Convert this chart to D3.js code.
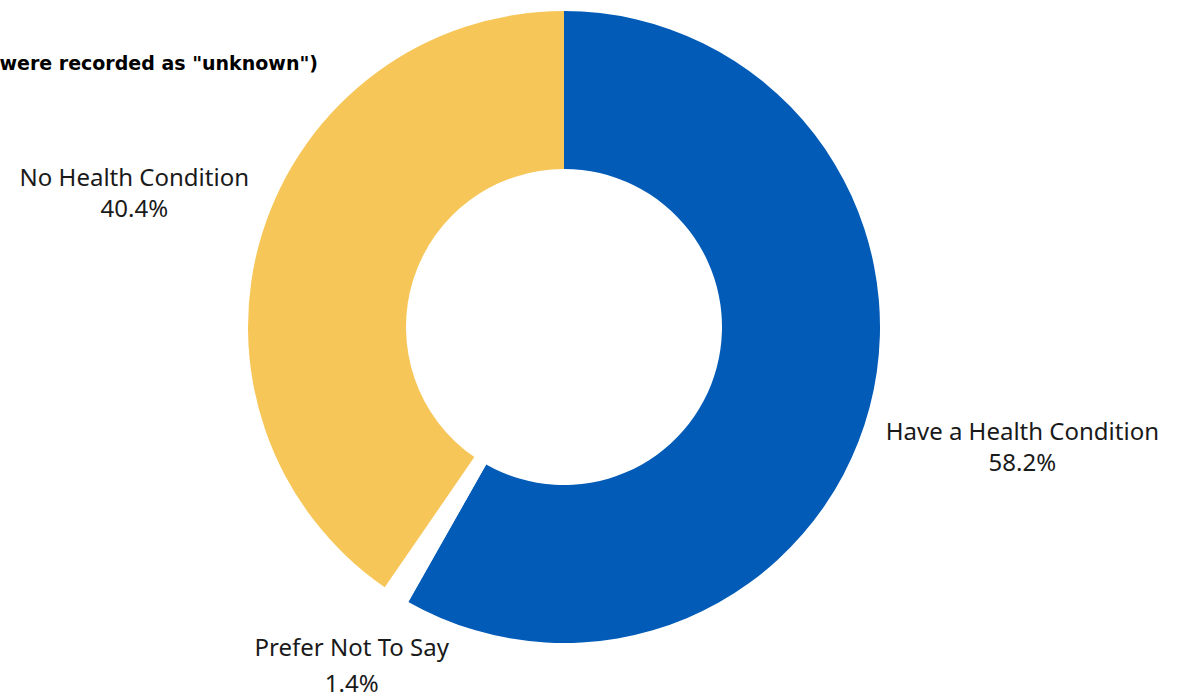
<!DOCTYPE html>
<html>
<head>
<meta charset="utf-8">
<script src="https://cdn.jsdelivr.net/npm/d3@7"></script>
<style>
  body { margin: 0; background: #fff; }
</style>
</head>
<body>
<div class="canvas"></div>
<script>
// data
const categories = ["Have a Health Condition", "Prefer Not To Say", "No Health Condition"];
const values = [58.2, 1.4, 40.4];
const colors = ["#025BB7", "#ffffff", "#F7C659"];
const labelRadius = [474, 400, 450];
const lineGap = [31, 36, 31];

const width = 1179, height = 698;
const cx = 564, cy = 327;
const outerR = 316, innerR = 158;

const svg = d3.select(".canvas")
  .append("svg")
  .attr("width", width)
  .attr("height", height);

// title (cut off at left edge, as in the original)
svg.append("text")
  .attr("x", 318)
  .attr("y", 70)
  .attr("text-anchor", "end")
  .attr("font-family", "DejaVu Sans")
  .attr("font-weight", "bold")
  .attr("font-size", 19)
  .attr("fill", "#000")
  .text('were recorded as "unknown")');

const data = categories.map((c, i) => ({ name: c, value: values[i], i }));

const pie = d3.pie().value(d => d.value).sort(null);
const arc = d3.arc().innerRadius(innerR).outerRadius(outerR);

const graph = svg.append("g")
  .attr("transform", `translate(${cx}, ${cy})`);

const arcs = pie(data);

graph.selectAll("path")
  .data(arcs)
  .enter()
  .append("path")
  .attr("d", arc)
  .attr("fill", d => colors[d.data.i]);

// labels, two lines each (name + percentage)
arcs.forEach(d => {
  const r = labelRadius[d.data.i];
  const c = d3.arc().innerRadius(r).outerRadius(r).centroid(d);
  const g = graph.append("g")
    .attr("class", "label")
    .attr("transform", `translate(${c[0]}, ${c[1]})`);

  g.append("text")
    .attr("text-anchor", "middle")
    .attr("font-family", "Noto Sans")
    .attr("font-size", 24)
    .attr("fill", "#1a1a1a")
    .attr("y", -lineGap[d.data.i] / 2 + 8)
    .text(d.data.name);

  g.append("text")
    .attr("text-anchor", "middle")
    .attr("font-family", "Noto Sans")
    .attr("font-size", 24)
    .attr("fill", "#1a1a1a")
    .attr("y", lineGap[d.data.i] / 2 + 8)
    .text(d.data.value.toFixed(1) + "%");
});
</script>
</body>
</html>
